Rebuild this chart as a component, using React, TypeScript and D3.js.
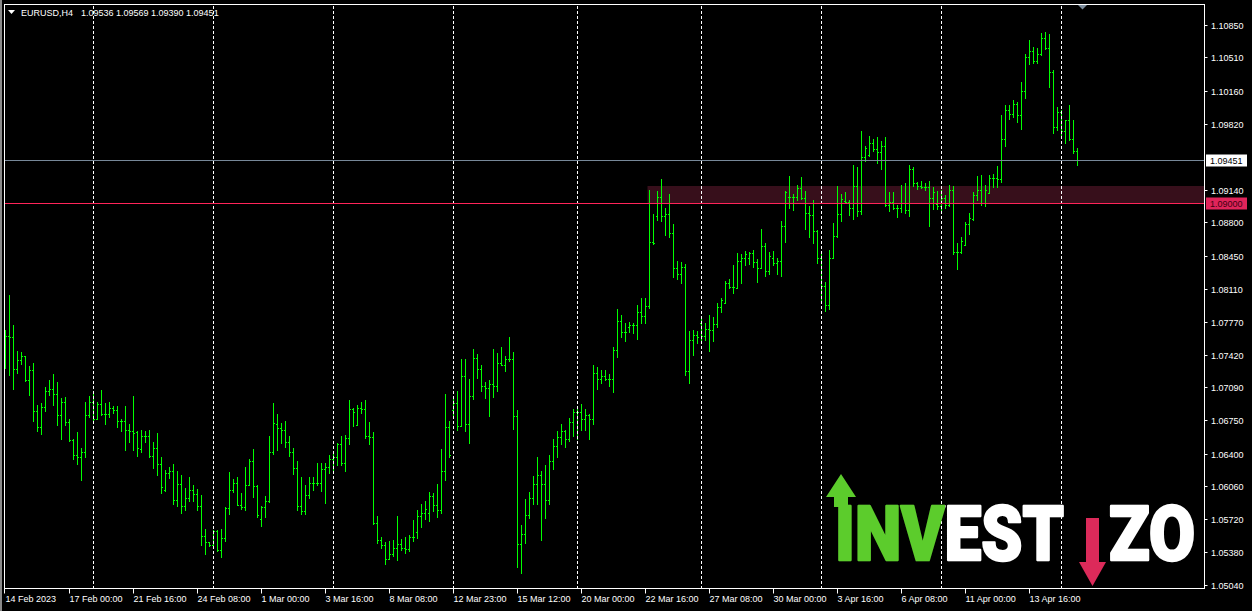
import * as d3 from 'd3';
import React, { useEffect, useRef } from 'react';

const width = 1252;
const height = 611;

// EURUSD H4 bars, 14 Feb 2023 08:00 .. 14 Apr 2023
const openPrices = [
  1.0764, 1.0762, 1.0761, 1.0728, 1.0737, 1.0741, 1.0716, 1.0727, 1.0684, 1.0668,
  1.0688, 1.0705, 1.0707, 1.0702, 1.068, 1.0694, 1.0673, 1.0654, 1.0639, 1.0637,
  1.0642, 1.068, 1.0694, 1.0676, 1.0691, 1.0681, 1.0681, 1.0687, 1.0685, 1.0674,
  1.0674, 1.0664, 1.0663, 1.0662, 1.0645, 1.0658, 1.0658, 1.0638, 1.0646, 1.0629,
  1.0602, 1.062, 1.0622, 1.0592, 1.0608, 1.0586, 1.0594, 1.0602, 1.0598, 1.0586,
  1.0555, 1.0548, 1.0545, 1.056, 1.054, 1.0552, 1.0584, 1.0602, 1.0609, 1.0587,
  1.0585, 1.0607, 1.0632, 1.0606, 1.0572, 1.0585, 1.0591, 1.0642, 1.0671, 1.0667,
  1.0665, 1.0652, 1.0642, 1.0625, 1.0586, 1.058, 1.0597, 1.0609, 1.061, 1.061,
  1.0624, 1.0626, 1.0634, 1.0637, 1.065, 1.063, 1.0656, 1.0686, 1.067, 1.0687,
  1.0686, 1.0658, 1.0657, 1.0568, 1.055, 1.0545, 1.0531, 1.0536, 1.0542, 1.0546,
  1.0542, 1.0541, 1.0553, 1.0559, 1.0575, 1.0578, 1.0578, 1.0596, 1.0587, 1.0582,
  1.0622, 1.0668, 1.0685, 1.0693, 1.0669, 1.0721, 1.0671, 1.07, 1.0739, 1.0728,
  1.071, 1.0708, 1.0712, 1.071, 1.0734, 1.0732, 1.0738, 1.0738, 1.0679, 1.0546,
  1.0557, 1.0576, 1.0594, 1.0608, 1.0618, 1.0608, 1.0592, 1.0632, 1.0648, 1.0657,
  1.0663, 1.0655, 1.0673, 1.0683, 1.0683, 1.0676, 1.068, 1.0676, 1.0724, 1.0717,
  1.0721, 1.0717, 1.0717, 1.0747, 1.0778, 1.0766, 1.0771, 1.0773, 1.0773, 1.0787,
  1.0783, 1.0793, 1.086, 1.0887, 1.0906, 1.0887, 1.0889, 1.0869, 1.0833, 1.0826,
  1.0834, 1.0726, 1.0758, 1.0763, 1.0776, 1.0762, 1.0769, 1.0768, 1.0774, 1.0792,
  1.0796, 1.0817, 1.0813, 1.0812, 1.084, 1.0843, 1.0843, 1.0848, 1.0839, 1.0833,
  1.0855, 1.0829, 1.0843, 1.0838, 1.084, 1.0876, 1.0906, 1.0906, 1.0906, 1.0916,
  1.0905, 1.089, 1.0888, 1.0871, 1.0843, 1.0814, 1.0794, 1.0843, 1.0866, 1.0889,
  1.0902, 1.0901, 1.0895, 1.0918, 1.0892, 1.0948, 1.095, 1.0962, 1.0956, 1.0953,
  1.0959, 1.0898, 1.0901, 1.0895, 1.0895, 1.09, 1.0893, 1.0935, 1.0921, 1.0918,
  1.0917, 1.0917, 1.0905, 1.0899, 1.0897, 1.0905, 1.0898, 1.0913, 1.0849, 1.0849,
  1.0856, 1.0878, 1.0883, 1.0908, 1.0914, 1.09, 1.091, 1.0926, 1.0926, 1.0925,
  1.0966, 1.0997, 1.0992, 1.1003, 1.0991, 1.1016, 1.1051, 1.1058, 1.1047, 1.1055,
  1.1071, 1.1061, 1.1036, 1.0979, 1.0994, 1.0975, 1.0986, 1.0966, 1.09536,
];

const highPrices = [
  1.0768, 1.0805, 1.0773, 1.0746, 1.0745, 1.0741, 1.0731, 1.0734, 1.069, 1.0692,
  1.0709, 1.0716, 1.0723, 1.0714, 1.0698, 1.0699, 1.0676, 1.0655, 1.0662, 1.0646,
  1.0694, 1.07, 1.0702, 1.0694, 1.0706, 1.0693, 1.0694, 1.0689, 1.0689, 1.0676,
  1.0689, 1.0671, 1.07, 1.0663, 1.0665, 1.0663, 1.0664, 1.0652, 1.0661, 1.0637,
  1.0623, 1.0626, 1.0629, 1.0622, 1.0618, 1.0604, 1.0616, 1.0607, 1.0603, 1.0597,
  1.0562, 1.0548, 1.0561, 1.0561, 1.0562, 1.0585, 1.0621, 1.0614, 1.0616, 1.0599,
  1.0626, 1.0634, 1.0645, 1.0607, 1.0586, 1.0596, 1.0658, 1.0692, 1.0681, 1.0672,
  1.0674, 1.0658, 1.0646, 1.0632, 1.0616, 1.0607, 1.0616, 1.0616, 1.063, 1.063,
  1.063, 1.0639, 1.0643, 1.0651, 1.0658, 1.0659, 1.0696, 1.0687, 1.069, 1.0694,
  1.0696, 1.0673, 1.0662, 1.0575, 1.0554, 1.0548, 1.0549, 1.055, 1.0575, 1.0551,
  1.0554, 1.0556, 1.0571, 1.0582, 1.0588, 1.0591, 1.06, 1.0599, 1.0608, 1.0645,
  1.0702, 1.0674, 1.0699, 1.0705, 1.0738, 1.0738, 1.0717, 1.0749, 1.0743, 1.0732,
  1.0714, 1.0716, 1.0749, 1.0744, 1.0751, 1.0741, 1.0761, 1.0745, 1.0685, 1.0566,
  1.0593, 1.06, 1.0617, 1.0636, 1.0622, 1.0628, 1.0639, 1.0655, 1.0663, 1.0671,
  1.0665, 1.0677, 1.0686, 1.0689, 1.0691, 1.0686, 1.0681, 1.0732, 1.073, 1.0727,
  1.0727, 1.0723, 1.0751, 1.079, 1.0784, 1.0775, 1.0777, 1.0776, 1.0794, 1.0801,
  1.0801, 1.0913, 1.0889, 1.0912, 1.0925, 1.0895, 1.0909, 1.0878, 1.084, 1.0839,
  1.0837, 1.0767, 1.0768, 1.0767, 1.0782, 1.0776, 1.0784, 1.0782, 1.0796, 1.0801,
  1.0819, 1.0821, 1.0836, 1.0848, 1.0847, 1.085, 1.0849, 1.0851, 1.0842, 1.0873,
  1.0859, 1.0849, 1.085, 1.0843, 1.0881, 1.0912, 1.0928, 1.0909, 1.0919, 1.0927,
  1.0912, 1.0897, 1.0903, 1.0872, 1.0847, 1.0818, 1.0851, 1.0879, 1.0918, 1.0909,
  1.0911, 1.0903, 1.0939, 1.0937, 1.0975, 1.0959, 1.097, 1.0966, 1.0968, 1.0964,
  1.0968, 1.0911, 1.0911, 1.0898, 1.0919, 1.0921, 1.0939, 1.0937, 1.0922, 1.0923,
  1.0921, 1.0923, 1.0917, 1.0912, 1.0914, 1.0908, 1.0919, 1.0918, 1.0858, 1.0865,
  1.088, 1.089, 1.0911, 1.0928, 1.0929, 1.0919, 1.0929, 1.093, 1.0938, 1.0991,
  1.1002, 1.1002, 1.1007, 1.1005, 1.1026, 1.1055, 1.1069, 1.1062, 1.1061, 1.1076,
  1.1077, 1.1075, 1.1038, 1.1, 1.0997, 1.0986, 1.1002, 1.0986, 1.09569,
];

const lowPrices = [
  1.0729, 1.0722, 1.0707, 1.0724, 1.0733, 1.0715, 1.0701, 1.0674, 1.0663, 1.066,
  1.0684, 1.0701, 1.069, 1.067, 1.0655, 1.067, 1.0653, 1.0634, 1.0629, 1.0613,
  1.0637, 1.0678, 1.0672, 1.0676, 1.068, 1.0671, 1.0678, 1.0682, 1.0668, 1.0663,
  1.0644, 1.0652, 1.0644, 1.0638, 1.0642, 1.0652, 1.0636, 1.0625, 1.0618, 1.0599,
  1.0601, 1.0615, 1.0588, 1.0586, 1.0578, 1.0582, 1.0591, 1.0591, 1.0581, 1.0545,
  1.0536, 1.0544, 1.0544, 1.0539, 1.0533, 1.0549, 1.0577, 1.06, 1.0587, 1.0583,
  1.0582, 1.0607, 1.0595, 1.0574, 1.0565, 1.0574, 1.059, 1.064, 1.0644, 1.0651,
  1.0647, 1.0638, 1.0619, 1.0582, 1.0577, 1.0577, 1.0594, 1.0602, 1.0607, 1.0601,
  1.0589, 1.062, 1.0622, 1.0628, 1.0628, 1.0622, 1.065, 1.0669, 1.067, 1.0682,
  1.0656, 1.065, 1.0567, 1.0547, 1.0542, 1.0525, 1.0531, 1.0534, 1.053, 1.054,
  1.0537, 1.0539, 1.0549, 1.0552, 1.0564, 1.0572, 1.057, 1.058, 1.0574, 1.0578,
  1.0613, 1.0637, 1.068, 1.0665, 1.0669, 1.0663, 1.0651, 1.0697, 1.0718, 1.0705,
  1.0698, 1.0679, 1.0699, 1.0705, 1.0732, 1.0726, 1.0736, 1.0666, 1.0522, 1.0516,
  1.0547, 1.0573, 1.0588, 1.0588, 1.055, 1.0573, 1.0588, 1.0624, 1.0636, 1.065,
  1.0647, 1.0653, 1.0658, 1.0655, 1.0665, 1.0665, 1.0655, 1.0671, 1.0707, 1.0713,
  1.0716, 1.071, 1.0704, 1.074, 1.0761, 1.0757, 1.0766, 1.0765, 1.0759, 1.0776,
  1.0776, 1.0791, 1.0857, 1.0882, 1.0881, 1.0867, 1.0865, 1.0823, 1.0821, 1.0817,
  1.0722, 1.0713, 1.0742, 1.0755, 1.0758, 1.0758, 1.0746, 1.0757, 1.0771, 1.0787,
  1.0796, 1.0812, 1.0807, 1.0812, 1.0817, 1.0836, 1.0837, 1.0834, 1.0818, 1.0833,
  1.0824, 1.0826, 1.0836, 1.0826, 1.0824, 1.086, 1.0895, 1.0893, 1.0903, 1.0904,
  1.0873, 1.0865, 1.0859, 1.0838, 1.0799, 1.0788, 1.079, 1.0843, 1.0865, 1.0881,
  1.09, 1.0888, 1.0883, 1.0887, 1.0889, 1.0944, 1.0949, 1.0954, 1.0941, 1.0935,
  1.0897, 1.0892, 1.0894, 1.0886, 1.0891, 1.089, 1.0887, 1.0918, 1.0915, 1.0916,
  1.0913, 1.0876, 1.0894, 1.0894, 1.0892, 1.0895, 1.0897, 1.0847, 1.0832, 1.0848,
  1.0856, 1.0868, 1.0882, 1.0903, 1.0898, 1.0897, 1.091, 1.0917, 1.0917, 1.0922,
  1.0959, 1.0987, 1.0989, 1.0984, 1.0977, 1.1009, 1.1044, 1.1045, 1.1045, 1.1054,
  1.106, 1.102, 1.0973, 1.0976, 1.0971, 1.0962, 1.0965, 1.0952, 1.0939,
];

const closePrices = [
  1.0762, 1.0761, 1.0728, 1.0737, 1.0741, 1.0716, 1.0727, 1.0684, 1.0668, 1.0688,
  1.0705, 1.0707, 1.0702, 1.068, 1.0694, 1.0673, 1.0654, 1.0639, 1.0637, 1.0642,
  1.068, 1.0694, 1.0676, 1.0691, 1.0681, 1.0681, 1.0687, 1.0685, 1.0674, 1.0674,
  1.0664, 1.0663, 1.0661, 1.0646, 1.0658, 1.0658, 1.0638, 1.0646, 1.0629, 1.0605,
  1.062, 1.0622, 1.0592, 1.0608, 1.0586, 1.0594, 1.0602, 1.0598, 1.0586, 1.0555,
  1.0548, 1.0545, 1.056, 1.054, 1.0552, 1.0584, 1.0602, 1.0609, 1.0587, 1.0585,
  1.0607, 1.0632, 1.0606, 1.0576, 1.0585, 1.0591, 1.0642, 1.0672, 1.0667, 1.0665,
  1.0652, 1.0642, 1.0625, 1.0586, 1.058, 1.0597, 1.0609, 1.061, 1.061, 1.0624,
  1.0626, 1.0634, 1.0637, 1.065, 1.063, 1.0656, 1.0686, 1.0683, 1.0687, 1.0686,
  1.0658, 1.0657, 1.0568, 1.055, 1.0545, 1.0531, 1.0536, 1.0542, 1.0546, 1.0542,
  1.0541, 1.0553, 1.0553, 1.0575, 1.0578, 1.0583, 1.0596, 1.0587, 1.0582, 1.0622,
  1.0668, 1.0639, 1.0693, 1.0669, 1.0721, 1.0671, 1.07, 1.0739, 1.0728, 1.071,
  1.0708, 1.0712, 1.071, 1.0734, 1.0732, 1.0738, 1.0738, 1.0679, 1.0546, 1.0557,
  1.0576, 1.0594, 1.0608, 1.0618, 1.0608, 1.0592, 1.0632, 1.0648, 1.0657, 1.0663,
  1.0655, 1.0673, 1.0683, 1.0683, 1.0676, 1.068, 1.0676, 1.0724, 1.0717, 1.0721,
  1.0717, 1.0717, 1.0747, 1.0778, 1.0766, 1.0766, 1.0773, 1.0773, 1.0787, 1.0783,
  1.0793, 1.086, 1.0858, 1.0906, 1.0887, 1.0889, 1.0869, 1.0833, 1.0826, 1.0834,
  1.0726, 1.0758, 1.0763, 1.0761, 1.0762, 1.0769, 1.0768, 1.0774, 1.0792, 1.0799,
  1.0817, 1.0813, 1.0813, 1.084, 1.0843, 1.0847, 1.0848, 1.0839, 1.0833, 1.0855,
  1.0829, 1.0845, 1.0838, 1.084, 1.0876, 1.0911, 1.0906, 1.0906, 1.0916, 1.0905,
  1.089, 1.0888, 1.0871, 1.0843, 1.0814, 1.0794, 1.0843, 1.0866, 1.0889, 1.0904,
  1.0901, 1.0895, 1.0918, 1.0892, 1.0948, 1.0957, 1.0962, 1.0956, 1.0953, 1.0959,
  1.0898, 1.0901, 1.0895, 1.0895, 1.09, 1.0893, 1.0935, 1.0921, 1.0918, 1.0917,
  1.0917, 1.0905, 1.0911, 1.0897, 1.0905, 1.0898, 1.0913, 1.0849, 1.0849, 1.0861,
  1.0878, 1.0884, 1.0908, 1.0913, 1.09, 1.0914, 1.0926, 1.0926, 1.0925, 1.0966,
  1.0997, 1.0992, 1.1003, 1.0991, 1.1016, 1.1051, 1.1058, 1.1047, 1.1055, 1.1071,
  1.1061, 1.1036, 1.0979, 1.0994, 1.0975, 1.0986, 1.0966, 1.0954, 1.09451,
];

const timeLabels = [
  '14 Feb 2023', '17 Feb 00:00', '21 Feb 16:00', '24 Feb 08:00', '1 Mar 00:00',
  '3 Mar 16:00', '8 Mar 08:00', '12 Mar 23:00', '15 Mar 12:00', '20 Mar 00:00',
  '22 Mar 16:00', '27 Mar 08:00', '30 Mar 00:00', '3 Apr 16:00', '6 Apr 08:00',
  '11 Apr 00:00', '13 Apr 16:00',
];
const timeLabelBars = [0, 16, 32, 48, 64, 80, 96, 112, 128, 144, 160, 176, 192, 208, 224, 240, 256];
const weekStartBars = [22, 52, 82, 112, 143, 174, 204, 234, 264];

const priceLabels = [
  1.1085, 1.1051, 1.1016, 1.0982, 1.0914, 1.088, 1.0845, 1.0811, 1.0777,
  1.0742, 1.0709, 1.0675, 1.064, 1.0606, 1.0572, 1.0538, 1.0504,
];

const symbolName = 'EURUSD,H4';
const bidPrice = 1.09451;
const levelPrice = 1.09;
const zoneTop = 1.0918;
const zoneStartBar = 160.5;

const App = () => {
  const svgRef = useRef(null);

  const renderSvg = () => {
    const svg = d3.select(svgRef.current);
    svg.selectAll('*').remove();

    const left = 4.5;
    const right = 1204.5;
    const top = 4.5;
    const bottom = 588.5;
    const font = "'Liberation Sans', Arial, sans-serif";
    const fmt = d3.format('.5f');
    const n = closePrices.length;

    const xScale = d3.scaleLinear().domain([0, n - 1]).range([5.5, 5.5 + 4 * (n - 1)]);
    const yScale = d3.scaleLinear().domain([1.0504, 1.1085]).range([584.7, 24.7]);
    const py = (v: number) => Math.round(yScale(v));

    const green = '#5ccc2c';
    const red = '#dc2a5a';

    const defs = svg.append('defs');
    const grad = defs
      .append('linearGradient')
      .attr('id', 'logoFill')
      .attr('gradientUnits', 'userSpaceOnUse')
      .attr('x1', 830)
      .attr('x2', 1070)
      .attr('y1', 0)
      .attr('y2', 0);
    const cut = (945 - 830) / (1070 - 830);
    grad.append('stop').attr('offset', 0).attr('stop-color', green);
    grad.append('stop').attr('offset', cut).attr('stop-color', green);
    grad.append('stop').attr('offset', cut).attr('stop-color', '#fff');
    grad.append('stop').attr('offset', 1).attr('stop-color', '#fff');

    svg.append('rect').attr('width', width).attr('height', height).attr('fill', '#000');
    svg.append('rect').attr('width', 2).attr('height', height).attr('fill', '#8a8a8a');

    // support zone
    svg
      .append('rect')
      .attr('x', xScale(zoneStartBar))
      .attr('y', py(zoneTop))
      .attr('width', right - xScale(zoneStartBar))
      .attr('height', py(levelPrice) - py(zoneTop))
      .attr('fill', '#370f1b');

    // OHLC bars
    const bars = svg.append('g').attr('fill', '#00ff00').attr('shape-rendering', 'crispEdges');
    const idx = d3.range(n);
    bars
      .selectAll('rect.hl')
      .data(idx)
      .enter()
      .append('rect')
      .attr('class', 'hl')
      .attr('x', (i) => xScale(i) - 0.5)
      .attr('y', (i) => py(highPrices[i]))
      .attr('width', 1)
      .attr('height', (i) => py(lowPrices[i]) - py(highPrices[i]) + 1);
    bars
      .selectAll('rect.op')
      .data(idx)
      .enter()
      .append('rect')
      .attr('class', 'op')
      .attr('x', (i) => xScale(i) - 1.5)
      .attr('y', (i) => py(openPrices[i]))
      .attr('width', 1)
      .attr('height', 1);
    bars
      .selectAll('rect.cl')
      .data(idx)
      .enter()
      .append('rect')
      .attr('class', 'cl')
      .attr('x', (i) => xScale(i) + 0.5)
      .attr('y', (i) => py(closePrices[i]))
      .attr('width', 1)
      .attr('height', 1);

    // weekly grid
    svg
      .append('g')
      .selectAll('line')
      .data(weekStartBars)
      .enter()
      .append('line')
      .attr('x1', (d) => xScale(d))
      .attr('x2', (d) => xScale(d))
      .attr('y1', top + 1)
      .attr('y2', bottom)
      .attr('stroke', '#fff')
      .attr('stroke-dasharray', '3,2')
      .attr('shape-rendering', 'crispEdges');

    // bid line and level line
    svg
      .append('rect')
      .attr('x', left)
      .attr('y', py(bidPrice))
      .attr('width', right - left)
      .attr('height', 1)
      .attr('fill', '#778899')
      .attr('shape-rendering', 'crispEdges');
    svg
      .append('rect')
      .attr('x', left)
      .attr('y', py(levelPrice))
      .attr('width', right - left)
      .attr('height', 1)
      .attr('fill', '#ff2459')
      .attr('shape-rendering', 'crispEdges');

    // frame
    svg
      .append('rect')
      .attr('x', left)
      .attr('y', top)
      .attr('width', right - left)
      .attr('height', bottom - top)
      .attr('fill', 'none')
      .attr('stroke', '#fff')
      .attr('shape-rendering', 'crispEdges');

    // shift marker
    svg
      .append('path')
      .attr('d', 'M1078,5 L1087,5 L1082.5,9.5 Z')
      .attr('fill', '#7b8b9b');

    // price axis
    const yAxis = svg.append('g').attr('font-family', font).attr('font-size', 9).attr('fill', '#fff');
    yAxis
      .selectAll('line')
      .data(priceLabels)
      .enter()
      .append('line')
      .attr('x1', right)
      .attr('x2', right + 3)
      .attr('y1', (d) => py(d) + 0.5)
      .attr('y2', (d) => py(d) + 0.5)
      .attr('stroke', '#fff');
    yAxis
      .selectAll('text')
      .data(priceLabels)
      .enter()
      .append('text')
      .attr('x', 1211)
      .attr('y', (d) => py(d) + 3.5)
      .text((d) => fmt(d));

    const priceBox = (v: number, bg: string, fg: string) => {
      svg
        .append('rect')
        .attr('x', 1206)
        .attr('y', py(v) - 5.5)
        .attr('width', 41)
        .attr('height', 12)
        .attr('fill', bg);
      svg
        .append('text')
        .attr('x', 1210)
        .attr('y', py(v) + 4)
        .attr('font-family', font)
        .attr('font-size', 9)
        .attr('fill', fg)
        .text(fmt(v));
    };
    priceBox(bidPrice, '#fff', '#000');
    priceBox(levelPrice, '#e0245a', '#3d0010');

    // time axis
    const xAxis = svg.append('g').attr('font-family', font).attr('font-size', 9).attr('fill', '#fff');
    xAxis
      .selectAll('line')
      .data(timeLabelBars)
      .enter()
      .append('line')
      .attr('x1', (d) => (d === 0 ? left : xScale(d)))
      .attr('x2', (d) => (d === 0 ? left : xScale(d)))
      .attr('y1', bottom)
      .attr('y2', bottom + 5)
      .attr('stroke', '#fff');
    xAxis
      .selectAll('text')
      .data(timeLabelBars)
      .enter()
      .append('text')
      .attr('x', (d) => (d === 0 ? left + 1 : xScale(d)))
      .attr('y', 602)
      .text((d, i) => timeLabels[i]);

    // title
    svg.append('path').attr('d', 'M8,10 L15,10 L11.5,14 Z').attr('fill', '#fff');
    svg
      .append('text')
      .attr('x', 21)
      .attr('y', 16)
      .attr('font-family', font)
      .attr('font-size', 9)
      .attr('fill', '#fff')
      .text(symbolName);
    svg
      .append('text')
      .attr('x', 81)
      .attr('y', 16)
      .attr('font-family', font)
      .attr('font-size', 9)
      .attr('fill', '#fff')
      .text(
        [openPrices[n - 1], highPrices[n - 1], lowPrices[n - 1], closePrices[n - 1]]
          .map((v) => fmt(v))
          .join(' '),
      );

    // watermark logo
    const logo = svg
      .append('g')
      .attr('font-family', 'Roboto, Lato, sans-serif')
      .attr('font-weight', 900)
      .attr('font-size', 76)
      .attr('stroke-width', 2.5)
      .attr('stroke-linejoin', 'round');
    logo
      .append('text')
      .attr('x', 835)
      .attr('y', 560)
      .attr('textLength', 229)
      .attr('lengthAdjust', 'spacingAndGlyphs')
      .attr('fill', 'url(#logoFill)')
      .attr('stroke', 'url(#logoFill)')
      .text('INVEST');
    logo
      .append('text')
      .attr('x', 1109)
      .attr('y', 560)
      .attr('textLength', 86)
      .attr('lengthAdjust', 'spacingAndGlyphs')
      .attr('fill', '#fff')
      .attr('stroke', '#fff')
      .text('ZO');
    logo
      .append('path')
      .attr('d', 'M841,474 L856,497 L848,497 L848,507 L834,507 L834,497 L826,497 Z')
      .attr('fill', green);
    logo
      .append('path')
      .attr('d', 'M1086,518 L1099,518 L1099,562 L1106,562 L1092.5,586 L1079,562 L1086,562 Z')
      .attr('fill', red);
  };

  useEffect(() => {
    renderSvg();
  }, []);

  return (
    <svg
      ref={svgRef}
      width={width}
      height={height}
      style={{ position: 'fixed', left: 0, top: 0, display: 'block' }}
    />
  );
};

export default App;
